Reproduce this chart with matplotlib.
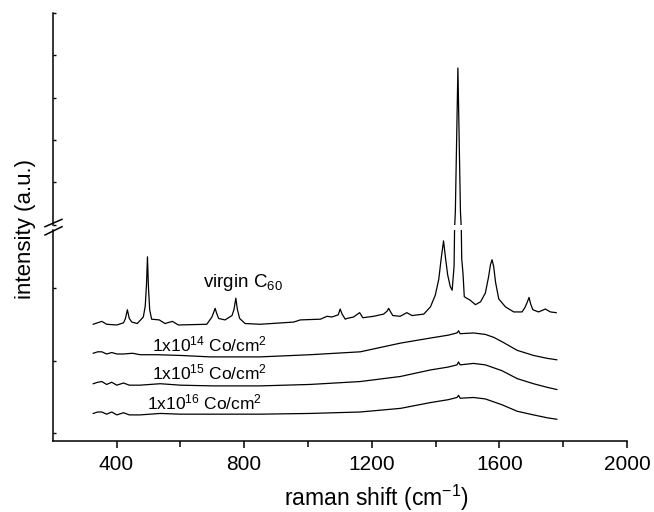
import matplotlib
matplotlib.use("Agg")
import matplotlib.pyplot as plt
from matplotlib.lines import Line2D

plt.rcParams["font.family"] = ["Liberation Sans", "DejaVu Sans"]
plt.rcParams["mathtext.fontset"] = "custom"
plt.rcParams["mathtext.rm"] = "Liberation Sans"
plt.rcParams["mathtext.it"] = "Liberation Sans:italic"

# raman shift (cm-1) and intensity (a.u., offset traces)
virgin_shift = [327, 354, 369, 401, 422, 428, 434, 440, 448, 465, 484, 490, 494, 497,
                500, 504, 510, 534, 552, 575, 594, 683, 699, 705, 709, 714, 720, 740,
                762, 768, 774, 779, 786, 803, 850, 955, 976, 1039, 1060, 1075, 1095,
                1101, 1107, 1117, 1122, 1143, 1162, 1172, 1206, 1237, 1248, 1253,
                1259, 1266, 1289, 1310, 1326, 1363, 1384, 1399, 1410, 1418, 1425,
                1431, 1438, 1446, 1452, 1458, 1462, 1466, 1470, 1474, 1478, 1482,
                1486, 1490, 1509, 1525, 1541, 1556, 1566, 1572, 1577, 1582, 1588,
                1598, 1619, 1645, 1671, 1680, 1687, 1693, 1698, 1705, 1723, 1744,
                1760, 1778]
virgin_int = [1.50, 1.54, 1.50, 1.49, 1.52, 1.58, 1.70, 1.58, 1.53, 1.51, 1.60, 1.75, 2.05, 2.43,
              2.02, 1.70, 1.57, 1.56, 1.51, 1.54, 1.49, 1.50, 1.60, 1.67, 1.72, 1.65, 1.58, 1.56,
              1.62, 1.70, 1.86, 1.70, 1.58, 1.51, 1.50, 1.53, 1.56, 1.57, 1.61, 1.60, 1.63,
              1.71, 1.64, 1.57, 1.58, 1.60, 1.66, 1.59, 1.61, 1.64, 1.68, 1.72,
              1.67, 1.62, 1.61, 1.66, 1.62, 1.64, 1.74, 1.90, 2.12, 2.42, 2.65,
              2.42, 2.18, 2.02, 1.97, 2.30, 3.6, 7.0, 10.4, 7.0, 3.6, 2.40,
              2.20, 1.88, 1.83, 1.77, 1.81, 1.93, 2.15, 2.32, 2.39, 2.30, 2.08,
              1.85, 1.74, 1.67, 1.67, 1.73, 1.80, 1.87, 1.78, 1.70, 1.67, 1.71,
              1.67, 1.66]

dose14_shift = [327, 341, 354, 369, 385, 401, 422, 450, 474, 527, 600, 694, 850,
                1007, 1164, 1290, 1384, 1440, 1467, 1472, 1477, 1519, 1556, 1582,
                1608, 1656, 1707, 1750, 1780]
dose14_int = [1.10, 1.12, 1.12, 1.09, 1.11, 1.09, 1.09, 1.10, 1.08, 1.08, 1.07, 1.05, 1.05,
              1.08, 1.12, 1.24, 1.31, 1.35, 1.38, 1.41, 1.37, 1.38, 1.36, 1.32,
              1.26, 1.14, 1.07, 1.03, 1.01]

dose15_shift = [327, 341, 354, 369, 385, 401, 422, 440, 474, 537, 600, 700, 850,
                1007, 1164, 1290, 1384, 1440, 1467, 1472, 1477, 1519, 1556, 1582,
                1608, 1656, 1707, 1750, 1780]
dose15_int = [0.68, 0.70, 0.71, 0.67, 0.70, 0.66, 0.69, 0.66, 0.66, 0.68, 0.66, 0.65, 0.65,
              0.67, 0.71, 0.78, 0.87, 0.91, 0.94, 0.98, 0.94, 0.96, 0.94, 0.90,
              0.86, 0.75, 0.68, 0.63, 0.60]

dose16_shift = [327, 341, 354, 369, 385, 401, 422, 440, 474, 537, 600, 700, 850,
                1007, 1164, 1290, 1384, 1440, 1467, 1472, 1477, 1519, 1556, 1582,
                1608, 1656, 1707, 1750, 1780]
dose16_int = [0.27, 0.29, 0.29, 0.26, 0.29, 0.25, 0.28, 0.25, 0.25, 0.27, 0.26, 0.26, 0.26,
              0.27, 0.29, 0.34, 0.42, 0.46, 0.49, 0.52, 0.48, 0.49, 0.47, 0.43,
              0.39, 0.30, 0.25, 0.21, 0.19]

traces = [(virgin_shift, virgin_int), (dose14_shift, dose14_int),
          (dose15_shift, dose15_int), (dose16_shift, dose16_int)]

fig = plt.figure(figsize=(6.54, 5.12), dpi=100)
left, right = 52.7 / 654, 627 / 654
ax = fig.add_axes([left, 1 - 441 / 512, right - left, (441 - 230) / 512])
ax_top = fig.add_axes([left, 1 - 224.5 / 512, right - left, (224.5 - 13) / 512])

for a in (ax, ax_top):
    for xs, ys in traces:
        a.plot(xs, ys, color="black", lw=0.9)
    a.set_xlim(200, 2000)
    a.spines["top"].set_visible(False)
    a.spines["right"].set_visible(False)
    a.spines["left"].set_linewidth(1.1)
    a.tick_params(axis="y", direction="in", length=2.5, width=1, labelleft=False)

ax.set_ylim(-0.11, 2.80)
ax.set_yticks([0, 1, 2])
ax.spines["bottom"].set_linewidth(1.1)
ax.set_xticks([400, 800, 1200, 1600, 2000])
ax.set_xticks([600, 1000, 1400, 1800], minor=True)
ax.tick_params(axis="x", which="major", direction="out", length=5, width=1.1,
               labelsize=15, pad=5)
ax.tick_params(axis="x", which="minor", direction="out", length=4, width=1.1)

ax_top.set_ylim(3, 13)
ax_top.set_yticks([3, 5, 7, 9, 11, 13])
ax_top.spines["bottom"].set_visible(False)
ax_top.tick_params(axis="x", bottom=False, labelbottom=False)

ax.text(671, 2.01, "virgin C$_{60}$", fontsize=13.5, va="baseline")
ax.text(511, 1.13, "1x10$^{14}$ Co/cm$^{2}$", fontsize=12.5, va="baseline")
ax.text(511, 0.74, "1x10$^{15}$ Co/cm$^{2}$", fontsize=12.5, va="baseline")
ax.text(497, 0.33, "1x10$^{16}$ Co/cm$^{2}$", fontsize=12.5, va="baseline")

fig.text(376 / 654, 1 - 498 / 512, "raman shift (cm$^{-1}$)", fontsize=16.5,
         ha="center", va="center")
fig.text(25 / 654, 1 - 229 / 512, "intensity (a.u.)", fontsize=16,
         rotation=90, ha="center", va="center")

# axis break marks
for y0, y1 in [(226.7, 219.3), (235, 226.7)]:
    fig.add_artist(Line2D([45 / 654, 62 / 654], [1 - y0 / 512, 1 - y1 / 512],
                          color="black", lw=1.1))

fig.savefig("out.png", dpi=100)
